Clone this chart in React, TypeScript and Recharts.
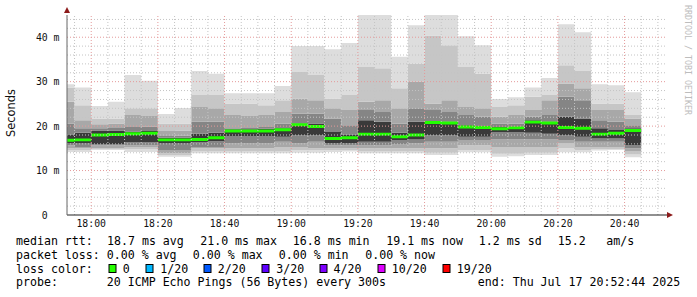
import { Area, ComposedChart, ReferenceDot, ReferenceLine, XAxis, YAxis } from "recharts"

const slots = [
  "17:50", "17:55", "18:00", "18:05", "18:10", "18:15", "18:20", "18:25", "18:30", "18:35",
  "18:40", "18:45", "18:50", "18:55", "19:00", "19:05", "19:10", "19:15", "19:20", "19:25",
  "19:30", "19:35", "19:40", "19:45", "19:50", "19:55", "20:00", "20:05", "20:10", "20:15",
  "20:20", "20:25", "20:30", "20:35", "20:40",
]
const pingMax = [29.4, 28.7, 24.5, 25.5, 31.5, 30.2, 22.7, 24.1, 32.4, 31.8, 27.4, 27.4, 27.4, 29.0, 38.0, 38.0, 37.3, 38.7, 47, 47, 35.6, 42.7, 47, 47, 40.2, 38.2, 26.1, 26.5, 28.7, 30.8, 42.9, 41.1, 29.4, 29.2, 27.6]
const hi1 = [28.7, 24.7, 21.7, 21.7, 24.0, 24.0, 20.6, 20.6, 27.0, 27.0, 25.1, 25.1, 24.7, 25.8, 32.2, 31.5, 26.2, 27.0, 33.3, 33.0, 28.5, 34.1, 40.4, 38.2, 33.3, 31.8, 24.3, 24.7, 26.6, 27.0, 33.7, 32.4, 25.1, 25.1, 22.5]
const hi2 = [25.5, 21.3, 20.4, 20.6, 22.5, 22.3, 18.9, 19.0, 24.3, 24.0, 22.5, 22.3, 22.5, 23.2, 26.2, 25.8, 24.0, 23.6, 25.5, 25.8, 24.0, 30.0, 25.1, 25.8, 24.3, 24.0, 22.1, 22.5, 23.6, 25.8, 29.6, 28.5, 23.6, 23.6, 21.7]
const hi3 = [20.6, 19.5, 19.5, 19.6, 19.8, 19.9, 17.8, 17.9, 21.0, 21.0, 19.5, 19.6, 19.8, 20.6, 22.8, 22.8, 21.7, 20.2, 23.6, 23.2, 20.6, 24.0, 23.6, 23.2, 22.5, 22.1, 20.6, 20.6, 22.1, 22.5, 26.6, 25.8, 21.3, 21.0, 20.2]
const hi4 = [18.0, 18.5, 19.0, 19.0, 18.8, 18.9, 17.4, 17.4, 18.3, 18.5, 19.3, 19.3, 19.4, 19.5, 20.6, 20.6, 18.7, 18.0, 21.3, 21.0, 18.5, 21.0, 21.0, 21.0, 20.2, 20.0, 19.8, 19.9, 21.3, 21.0, 22.1, 21.7, 19.5, 19.1, 19.5]
const median = [16.8, 16.9, 18.0, 18.1, 18.3, 18.4, 16.9, 16.9, 17.0, 17.4, 18.9, 18.9, 18.9, 19.2, 20.3, 19.9, 17.2, 17.4, 18.2, 18.2, 17.6, 18.0, 20.8, 20.7, 19.8, 19.7, 19.4, 19.6, 20.9, 20.7, 19.7, 19.5, 18.2, 18.4, 19.0]
const lo4 = [16.1, 16.1, 16.0, 16.0, 16.4, 16.4, 16.1, 16.1, 16.4, 16.6, 17.8, 17.8, 17.8, 17.6, 18.0, 18.0, 16.1, 16.1, 16.5, 16.5, 16.9, 17.0, 18.0, 18.0, 17.6, 17.6, 18.7, 18.7, 18.5, 18.3, 18.0, 17.6, 17.2, 17.2, 15.7]
const lo3 = [15.7, 15.3, 15.7, 15.7, 15.7, 15.7, 14.6, 14.6, 15.3, 15.3, 16.1, 16.1, 16.1, 16.5, 16.1, 16.5, 15.7, 15.7, 15.7, 15.7, 16.0, 16.1, 16.5, 16.5, 16.9, 16.9, 17.0, 17.0, 17.0, 17.0, 16.9, 16.5, 16.5, 16.5, 15.0]
const lo2 = [15.0, 15.0, 15.0, 15.0, 15.3, 15.3, 13.9, 13.9, 15.0, 15.0, 15.0, 15.0, 15.0, 15.3, 15.3, 15.0, 15.0, 15.0, 15.0, 15.0, 15.0, 15.0, 15.0, 15.0, 15.7, 15.7, 15.3, 15.3, 15.3, 15.3, 16.1, 15.3, 15.3, 15.3, 14.3]
const lo1 = [14.6, 14.6, 14.8, 14.8, 14.8, 14.8, 13.5, 13.5, 14.3, 14.3, 14.3, 14.3, 14.3, 14.3, 14.6, 14.6, 14.6, 14.6, 14.3, 14.3, 14.3, 14.3, 14.0, 14.0, 14.6, 14.6, 13.8, 13.8, 14.0, 14.0, 15.0, 14.6, 14.8, 14.8, 13.6]
const pingMin = [14.2, 14.2, 14.6, 14.6, 14.2, 14.2, 13.1, 13.1, 13.9, 13.9, 13.9, 13.9, 13.9, 13.9, 14.0, 14.0, 14.2, 14.3, 13.9, 13.9, 13.9, 13.9, 13.5, 13.5, 14.1, 14.1, 13.1, 13.2, 13.5, 13.5, 14.1, 14.1, 14.5, 14.6, 13.0]

const xTickLabels = ["18:00", "18:20", "18:40", "19:00", "19:20", "19:40", "20:00", "20:20", "20:40"]
const yTicks = [0, 10, 20, 30, 40]
const lossLabels = ["0", "1/20", "2/20", "3/20", "4/20", "10/20", "19/20"]
const lossColors = ["#26ff00", "#00b8ff", "#0059ff", "#5e00ff", "#7e00ff", "#dd00ff", "#ff0000"]

const toMin = (s: string) => {
  const [h, m] = s.split(":").map(Number)
  return h * 60 + m
}

const END = toMin("20:52") + 44 / 60
const START = END - 180
const MEDIAN_HALF = 0.33

const rows = slots.map((s, i) => ({
  t: toMin(s),
  base: pingMin[i],
  s1: lo1[i] - pingMin[i],
  s2: lo2[i] - lo1[i],
  s3: lo3[i] - lo2[i],
  s4: lo4[i] - lo3[i],
  core: hi4[i] - lo4[i],
  u4: hi3[i] - hi4[i],
  u3: hi2[i] - hi3[i],
  u2: hi1[i] - hi2[i],
  u1: pingMax[i] - hi1[i],
  mBase: median[i] - MEDIAN_HALF,
  mBand: MEDIAN_HALF * 2,
}))
// close the last step
rows.push({ ...rows[rows.length - 1], t: rows[rows.length - 1].t + 5 })

const bands = [
  { key: "s1", color: "#dddddd" },
  { key: "s2", color: "#c6c6c6" },
  { key: "s3", color: "#a8a8a8" },
  { key: "s4", color: "#858585" },
  { key: "core", color: "#3a3a3a" },
  { key: "u4", color: "#858585" },
  { key: "u3", color: "#a8a8a8" },
  { key: "u2", color: "#c6c6c6" },
  { key: "u1", color: "#dddddd" },
]

const xMajor = xTickLabels.map(toMin)
const xMinor: number[] = []
for (let t = toMin("17:55"); t < END; t += 5) if (!xMajor.includes(t)) xMinor.push(t)
const yMajor = [10, 20, 30, 40]
const yMinor: number[] = []
for (let v = 2; v <= 44; v += 2) if (!yMajor.includes(v)) yMinor.push(v)

const mono = "'DejaVu Sans Mono', monospace"

const hhmm = (m: number) => `${String(Math.floor(m / 60)).padStart(2, "0")}:${String(m % 60).padStart(2, "0")}`

const XTick = (p: any) => (
  <text x={p.x} y={p.y} dy={7} textAnchor="middle" fontSize={9.8} fontFamily={mono} fill="#111">
    {hhmm(p.payload.value)}
  </text>
)

const YTick = (p: any) => {
  const v = p.payload.value
  return (
    <text x={v === 0 ? p.x - 11.8 : p.x} y={p.y} dy={3.5} textAnchor="end" fontSize={9.8} fontFamily={mono} fill="#111">
      {v === 0 ? "0" : `${v} m`}
    </text>
  )
}

const legendRows = [
  { y: 245, items: [[16, "median rtt:"], [107, "18.7 ms avg"], [200.2, "21.0 ms max"], [292.8, "16.8 ms min"], [386.2, "19.1 ms now"], [478.8, "1.2 ms sd"], [557.8, "15.2"], [606.2, "am/s"]] },
  { y: 258.7, items: [[16, "packet loss:"], [106.8, "0.00 % avg"], [192.8, "0.00 % max"], [278.8, "0.00 % min"], [365.2, "0.00 % now"]] },
  { y: 272.5, items: [[16, "loss color:"]] },
  { y: 286.3, items: [[16, "probe:"], [106.8, "20 ICMP Echo Pings (56 Bytes) every 300s"], [477.8, "end: Thu Jul 17 20:52:44 2025"]] },
]
const lossBoxX = [108.5, 145.5, 203.5, 261.5, 319.5, 377.5, 442.5]
const lossTextX = [122.8, 160.2, 217.8, 276.2, 333.5, 391.8, 456.8]

const minorGrid = { stroke: "#c4c4c4", strokeDasharray: "1 2", strokeWidth: 1 }
const majorGrid = { stroke: "#e49a9a", strokeDasharray: "1 2", strokeWidth: 1 }

export default function App() {
  return (
    <div style={{ position: "absolute", left: 0, top: 0, width: 697, height: 297, background: "#fff", fontFamily: mono }}>
      <ComposedChart width={697} height={240} data={rows} margin={{ top: 15, right: 30, bottom: 5, left: 7 }}>
        <XAxis
          dataKey="t"
          type="number"
          domain={[START, END]}
          allowDataOverflow
          ticks={xMajor}
          tick={<XTick />}
          tickLine={false}
          tickSize={0}
          tickMargin={5.3}
          height={20}
          axisLine={{ stroke: "#222" }}
        />
        <YAxis
          type="number"
          domain={[0, 45]}
          allowDataOverflow
          ticks={yTicks}
          tick={<YTick />}
          tickLine={false}
          tickSize={0}
          tickMargin={7.5}
          width={60}
          axisLine={{ stroke: "#666" }}
        />
        <Area dataKey="base" stackId="smoke" type="stepAfter" fill="none" stroke="none" isAnimationActive={false} activeDot={false} />
        {bands.map((b) => (
          <Area
            key={b.key}
            dataKey={b.key}
            stackId="smoke"
            type="stepAfter"
            fill={b.color}
            fillOpacity={1}
            stroke="none"
            isAnimationActive={false}
            activeDot={false}
          />
        ))}
        <Area dataKey="mBase" stackId="med" type="stepAfter" fill="none" stroke="none" isAnimationActive={false} activeDot={false} />
        <Area dataKey="mBand" stackId="med" type="stepAfter" fill="#22ff00" fillOpacity={1} stroke="none" isAnimationActive={false} activeDot={false} />
        {yMinor.map((v) => (
          <ReferenceLine key={`ym${v}`} y={v} {...minorGrid} />
        ))}
        {xMinor.map((t) => (
          <ReferenceLine key={`xm${t}`} x={t} {...minorGrid} />
        ))}
        {yMajor.map((v) => (
          <ReferenceLine key={`yM${v}`} y={v} {...majorGrid} />
        ))}
        {xMajor.map((t) => (
          <ReferenceLine key={`xM${t}`} x={t} {...majorGrid} />
        ))}
        <ReferenceDot
          x={END}
          y={0}
          ifOverflow="visible"
          shape={(p: any) => <polygon points={`${p.cx},${p.cy - 3} ${p.cx + 6},${p.cy} ${p.cx},${p.cy + 3}`} fill="#8d1b1b" />}
        />
        <ReferenceDot
          x={START}
          y={45}
          ifOverflow="visible"
          shape={(p: any) => <polygon points={`${p.cx - 3},${p.cy - 2} ${p.cx},${p.cy - 8} ${p.cx + 3},${p.cy - 2}`} fill="#8d1b1b" />}
        />
      </ComposedChart>
      <svg width={697} height={297} style={{ position: "absolute", left: 0, top: 0, pointerEvents: "none" }}>
        <text transform="translate(15,113) rotate(-90)" textAnchor="middle" fontSize={11.4} fontFamily="'DejaVu Sans', sans-serif" fill="#111">
          Seconds
        </text>
        <text transform="translate(685,60) rotate(90)" textAnchor="middle" fontSize={8.3} fontFamily={mono} fill="#bdbdbd">
          RRDTOOL / TOBI OETIKER
        </text>
        {legendRows.map((r) =>
          r.items.map(([x, s]) => (
            <text key={`${r.y}-${x}`} x={x as number} y={r.y} fontSize={11.6} fontFamily={mono} fill="#000">
              {s}
            </text>
          )),
        )}
        {lossLabels.map((l, i) => (
          <g key={l}>
            <rect x={lossBoxX[i] + 0.5} y={264.5} width={7} height={8} fill={lossColors[i]} stroke="#000" strokeWidth={1} />
            <text x={lossTextX[i]} y={272.5} fontSize={11.6} fontFamily={mono} fill="#000">
              {l}
            </text>
          </g>
        ))}
      </svg>
    </div>
  )
}
